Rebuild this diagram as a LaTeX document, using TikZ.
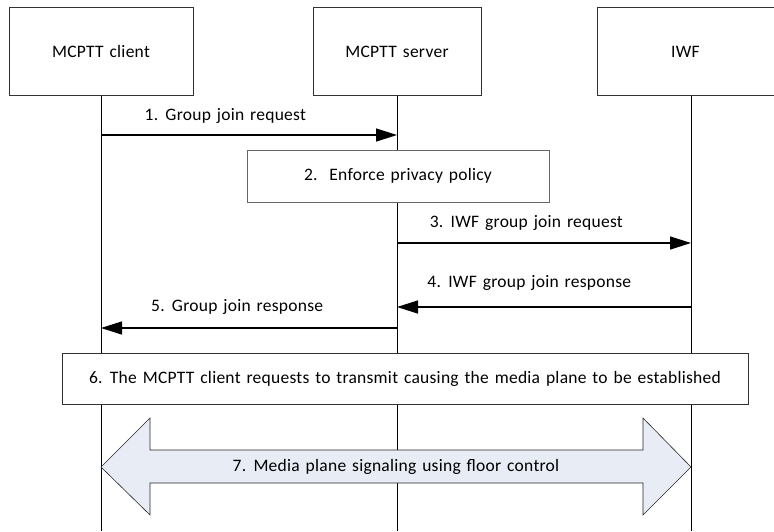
\documentclass[tikz,border=0pt]{standalone}
\usepackage{fontspec}
\setmainfont{Carlito}[WordSpace=1.4,LetterSpace=1.5]
\usepackage{xcolor}
\usetikzlibrary{arrows.meta,positioning,calc}
\definecolor{mediafill}{HTML}{E8ECF4}
\tikzset{
  actorbox/.style={rectangle,draw=black!80,line width=0.8pt,fill=white,minimum height=88pt,inner sep=0pt},
  stepbox/.style={rectangle,draw=black!60,line width=0.9pt,fill=white,minimum height=52pt,inner sep=0pt},
  lifeline/.style={line width=0.7pt},
  msg/.style={-{Triangle[length=21pt,width=13pt]},line width=1.4pt},
  bigarrow/.style={draw=black!85,line width=0.6pt,fill=mediafill}
}

\begin{document}
\begin{tikzpicture}[x=1pt,y=-1pt,font=\fontsize{17.5}{20}\selectfont]
\useasboundingbox (0,0) rectangle (774,531);
% \draw[help lines,step=50] (0,0) grid (774,531);
\node (client) [actorbox,minimum width=184pt] at (101,51.5) {MCPTT client};
\node (server) [actorbox,minimum width=168pt] at (397,51.5) {MCPTT server};
\node (iwf) [actorbox,minimum width=177pt] at (685.5,51.5) {IWF};
%
\coordinate (clientEnd) at (101,531);
\coordinate (serverEnd) at (397,531);
\coordinate (iwfEnd) at (691,531);
\draw[lifeline] (client.south) -- (clientEnd);
\draw[lifeline] (server.south) -- (serverEnd);
\draw[lifeline] (iwf.south -| iwfEnd) -- (iwfEnd);
%
\coordinate (c1) at (101,135);
\coordinate (s1) at (397,135);
\coordinate (s3) at (397,243);
\coordinate (i3) at (691,243);
\coordinate (i4) at (691,307);
\coordinate (s4) at (397,307);
\coordinate (s5) at (397,328);
\coordinate (c5) at (101,328);
%
\path[msg](c1) edge node[above=7pt,pos=0.42] {1. Group join request} (s1);
\node (policy) [stepbox,minimum width=302pt] at (398,176) {2.\ \ Enforce privacy policy};
\path[msg](s3) edge node[above=8pt,pos=0.44] {3. IWF group join request} (i3);
\path[msg](i4) edge node[above=12pt,pos=0.55] {4. IWF group join response} (s4);
\path[msg](s5) edge node[above=9pt,pos=0.54] {5. Group join response} (c5);
%
\node (transmit) [stepbox,draw=black!80,minimum width=686pt,minimum height=51pt] at (405,378.5) {6. The MCPTT client requests to transmit causing the media plane to be established};
%
\coordinate (c7) at (101,467);
\coordinate (i7) at (691,467);
\draw[bigarrow] (c7) -- ++(49,-49) -- ++(0,32) -- ($(i7)+(-48,-17)$) -- ++(0,-32) -- (i7)
  -- ++(-48,48) -- ++(0,-32) -- ($(c7)+(49,16)$) -- ++(0,32) -- cycle;
\node (media) at ($(c7)!0.5!(i7)$) {7. Media plane signaling using floor control};
\end{tikzpicture}
\end{document}
